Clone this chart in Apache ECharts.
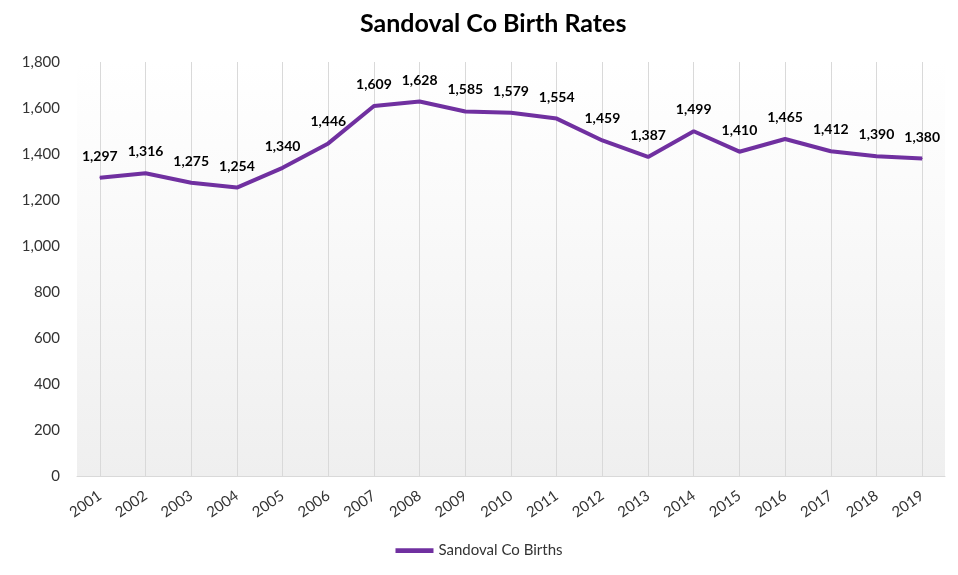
<!DOCTYPE html>
<html>
<head>
<meta charset="utf-8">
<script src="https://cdn.jsdelivr.net/npm/echarts@6/dist/echarts.min.js"></script>
<style>
  html, body { margin: 0; padding: 0; background: #fff; }
  #main { width: 958px; height: 575px; }
</style>
</head>
<body>
<div id="main"></div>
<script>
// data
var years = ["2001", "2002", "2003", "2004", "2005", "2006", "2007", "2008", "2009", "2010",
  "2011", "2012", "2013", "2014", "2015", "2016", "2017", "2018", "2019"];
var births = [1297, 1316, 1275, 1254, 1340, 1446, 1609, 1628, 1585, 1579,
  1554, 1459, 1387, 1499, 1410, 1465, 1412, 1390, 1380];

var font = "Lato, 'Noto Sans', sans-serif";
var purple = "#7030a0";
var chart = echarts.init(document.getElementById("main"));

chart.setOption({
  animation: false,
  title: {
    text: "Sandoval Co Birth Rates",
    left: 355,
    top: 6,
    textStyle: { fontFamily: font, fontSize: 25, fontWeight: "bold", color: "#000" }
  },
  legend: {
    bottom: 12,
    left: "center",
    icon: "path://M0,0 L40,0 L40,5 L0,5 Z",
    itemWidth: 38,
    itemHeight: 5,
    itemGap: 4,
    itemStyle: { color: purple, opacity: 1 },
    textStyle: { fontFamily: font, fontSize: 15, color: "#333" }
  },
  grid: {
    left: 77,
    right: 13,
    top: 62,
    bottom: 99,
    show: true,
    borderWidth: 0,
    backgroundColor: new echarts.graphic.LinearGradient(0, 0, 0, 1, [
      { offset: 0, color: "#ffffff" },
      { offset: 0.4, color: "#f9f9f9" },
      { offset: 1, color: "#efefef" }
    ])
  },
  xAxis: {
    type: "category",
    data: years,
    boundaryGap: true,
    z: 5,
    axisLine: { lineStyle: { color: "#d9d9d9", width: 1 } },
    // ticks stretched up to act as the vertical grid lines at each year
    axisTick: {
      show: true,
      inside: true,
      length: 414,
      interval: 0,
      alignWithLabel: true,
      lineStyle: { color: "#d9d9d9", width: 1 }
    },
    splitLine: { show: false },
    axisLabel: {
      rotate: 35,
      margin: 18,
      interval: 0,
      fontFamily: font,
      fontSize: 15,
      color: "#333"
    }
  },
  yAxis: {
    type: "value",
    min: 0,
    max: 1800,
    interval: 200,
    axisLine: { show: false },
    axisTick: { show: false },
    splitLine: { show: false },
    axisLabel: {
      margin: 17,
      fontFamily: font,
      fontSize: 15,
      color: "#333",
      formatter: function (v) { return v.toLocaleString("en-US"); }
    }
  },
  series: [
    {
      name: "Sandoval Co Births",
      type: "line",
      data: births,
      z: 6,
      showSymbol: true,
      symbol: "circle",
      symbolSize: 1,
      itemStyle: { color: purple, borderWidth: 0 },
      color: purple,
      lineStyle: { color: purple, width: 4 },
      label: {
        show: true,
        position: "top",
        distance: 14,
        fontFamily: font,
        fontSize: 14,
        fontWeight: "bold",
        color: "#000",
        formatter: function (p) { return p.value.toLocaleString("en-US"); }
      }
    }
  ]
});
</script>
</body>
</html>
